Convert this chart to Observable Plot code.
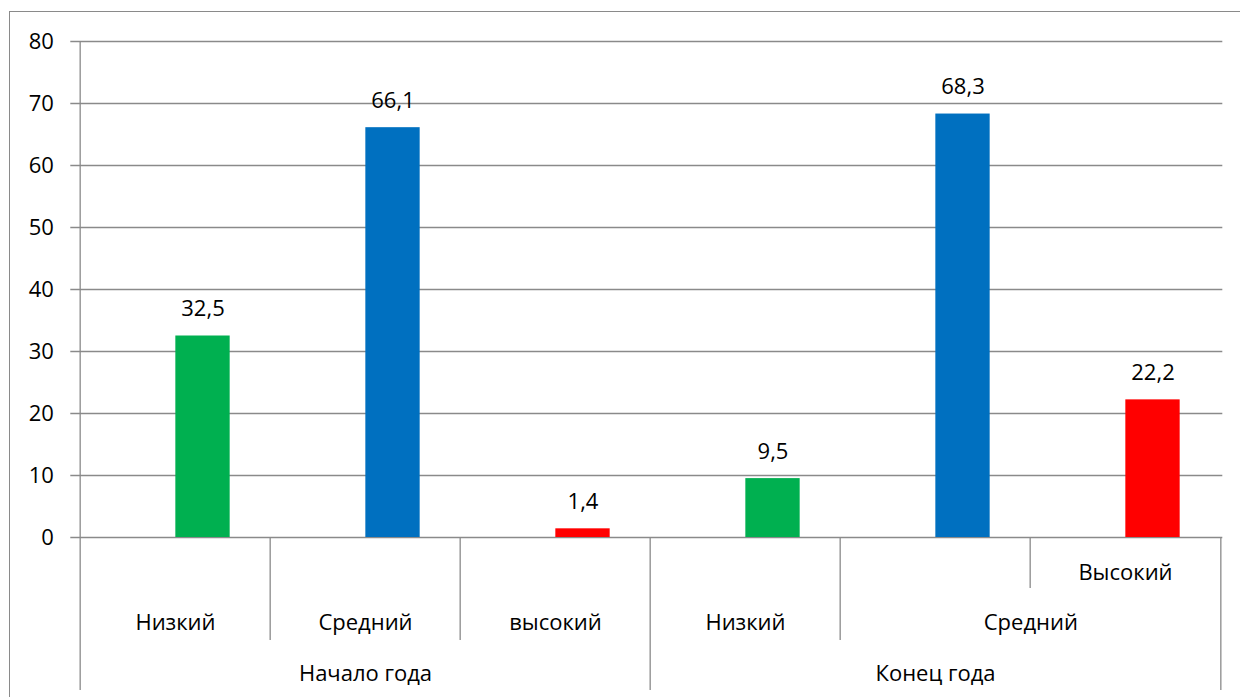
<!DOCTYPE html>
<html>
<head>
<meta charset="utf-8">
<script src="https://cdn.jsdelivr.net/npm/d3@7"></script>
<script src="https://cdn.jsdelivr.net/npm/@observablehq/plot@0.6"></script>
<style>
  html, body { margin: 0; padding: 0; background: #fff; }
  #wrap { position: relative; width: 1240px; height: 697px; overflow: hidden; }
  #frame { position: absolute; left: 9px; top: 11px; width: 1300px; height: 800px;
           border-left: 1.3px solid #8a8a8a; border-top: 1.3px solid #8a8a8a; pointer-events: none; }
  #chart { position: absolute; left: 0; top: 0; }
</style>
</head>
<body>
<div id="wrap"><div id="chart"></div><div id="frame"></div></div>
<script>
// ---- data ----
const slots = ["s0", "s1", "s2", "s3", "s4", "s5"];
const levels = ["Низкий", "Средний", "высокий", "Низкий", "Средний", "Высокий"];
const series = ["Низкий", "Средний", "Высокий", "Низкий", "Средний", "Высокий"];
const values = [32.5, 66.1, 1.4, 9.5, 68.3, 22.2];
const groups = ["Начало года", "Конец года"];
const groupCenterSlot = ["s1", "s4"];
const yTicks = [0, 10, 20, 30, 40, 50, 60, 70, 80];
// category-axis divider structure (boundary index -> hierarchy level it closes)
const boundaries = [0, 1, 2, 3, 4, 5, 6];
const boundaryLevel = ["axis", "leaf", "leaf", "group", "leaf", "sub", "group"];

const colors = {"Низкий": "#00B050", "Средний": "#0070C0", "Высокий": "#FF0000"};

const rows = slots.map((s, i) => ({slot: s, level: levels[i], series: series[i], value: values[i]}));

// ---- layout ----
const W = 1240, H = 697;
const mL = 78.3, mR = 17.7, mT = 41, mB = 160;
const bw = (W - mL - mR) / slots.length;
const barW = 55;
const plotH = H - mT - mB;
const font = "'Open Sans', sans-serif";
const fs = 22;

const divRows = boundaries.map((b, i) => ({
  slot: slots[Math.min(b, slots.length - 1)],
  dx: b < slots.length ? -bw / 2 : bw / 2,
  level: boundaryLevel[i]
}));
const extentBelow = {axis: 153, leaf: 103, group: 153, sub: 51};

const fmt = v => String(v).replace(".", ",");

const gridColor = "#8a8a8a";

const marks = [
  // horizontal gridlines (extend left over tick marks)
  Plot.ruleY(yTicks, {y: d => d, stroke: gridColor, strokeWidth: 1.3, insetLeft: -8}),
  // bars
  Plot.barY(rows, {
    x: "slot", y: "value", fill: d => colors[d.series],
    insetLeft: bw / 2, insetRight: bw / 2 - barW
  }),
  // value labels
  Plot.text(rows, {
    x: "slot", y: "value", text: d => fmt(d.value),
    dx: barW / 2, dy: -20, lineAnchor: "bottom",
    fontSize: fs, fill: "#000", fontFamily: font
  }),
  // y-axis tick labels
  Plot.axisY(yTicks, {
    tickSize: 0, tickPadding: 25, fontSize: fs, fontFamily: font, fill: "#000",
    textAnchor: "end", label: null
  }),
  // category axis dividers
  ...divRows.map(d => Plot.ruleX([d.slot], {
    x: v => v, dx: d.dx, stroke: gridColor, strokeWidth: 1.3,
    insetTop: d.level === "axis" ? 0 : plotH,
    insetBottom: -extentBelow[d.level]
  })),
  // level labels (first group + first slot of second group)
  Plot.text(rows.filter((r, i) => i < 4), {
    x: "slot", text: "level", frameAnchor: "bottom", dy: 92,
    fontSize: fs, fontFamily: font, fill: "#000"
  }),
  // second group: "Средний" spanning two slots, "Высокий" raised in the last slot
  Plot.text([rows[4]], {
    x: "slot", text: "level", frameAnchor: "bottom", dy: 92, dx: bw / 2,
    fontSize: fs, fontFamily: font, fill: "#000"
  }),
  Plot.text([rows[5]], {
    x: "slot", text: "level", frameAnchor: "bottom", dy: 42,
    fontSize: fs, fontFamily: font, fill: "#000"
  }),
  // group labels
  Plot.text(groups.map((g, i) => ({g, slot: groupCenterSlot[i]})), {
    x: "slot", text: "g", frameAnchor: "bottom", dy: 143,
    fontSize: fs, fontFamily: font, fill: "#000"
  })
];

const chart = Plot.plot({
  width: W, height: H,
  marginLeft: mL, marginRight: mR, marginTop: mT, marginBottom: mB,
  x: {type: "band", domain: slots, padding: 0, axis: null},
  y: {domain: [0, 80], axis: null},
  style: {fontFamily: font, background: "transparent", overflow: "visible"},
  marks
});
document.getElementById("chart").appendChild(chart);
</script>
</body>
</html>
